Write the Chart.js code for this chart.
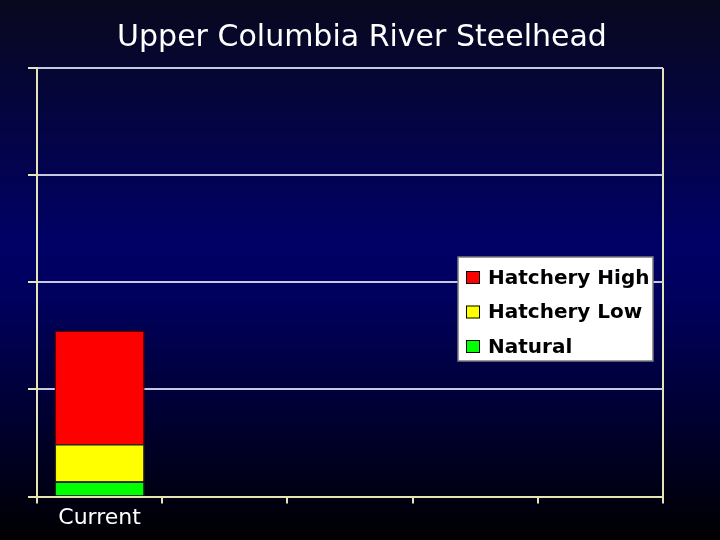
<!DOCTYPE html>
<html>
<head>
<meta charset="utf-8">
<script src="https://cdn.jsdelivr.net/npm/chart.js@4.4.1/dist/chart.umd.min.js"></script>
<style>
  html, body { margin: 0; padding: 0; background: #000; }
  #wrap { width: 720px; height: 540px; }
</style>
</head>
<body>
<div id="wrap"><canvas id="c" width="720" height="540"></canvas></div>
<script>
// ---- data ----
const titleText = "Upper Columbia River Steelhead";
const categories = ["Current", "", "", "", ""];
const natural = [1.4, null, null, null, null];
const hatcheryLow = [3.5, null, null, null, null];
const hatcheryHigh = [10.6, null, null, null, null];
const yMax = 40;
const yStep = 10;

const cream = "#e6e6b4";
const gridCol = "#c8c8e2";

const bgPlugin = {
  id: "bg",
  beforeDraw(chart) {
    const ctx = chart.ctx;
    const g = ctx.createLinearGradient(0, 0, 0, chart.height);
    g.addColorStop(0, "#08081e");
    g.addColorStop(0.45, "#000066");
    g.addColorStop(0.55, "#00005e");
    g.addColorStop(1, "#000002");
    ctx.save();
    ctx.fillStyle = g;
    ctx.fillRect(0, 0, chart.width, chart.height);
    ctx.restore();
  }
};

const titlePlugin = {
  id: "centerTitle",
  afterDraw(chart) {
    const ctx = chart.ctx;
    ctx.save();
    ctx.fillStyle = "#ffffff";
    ctx.font = "30px 'DejaVu Sans'";
    ctx.textAlign = "center";
    ctx.textBaseline = "alphabetic";
    ctx.fillText(titleText, 362, 46);
    ctx.restore();
  }
};

const legendPlugin = {
  id: "boxLegend",
  afterDraw(chart) {
    const ctx = chart.ctx;
    const bx = 458, by = 257, bw = 195, bh = 104;
    ctx.save();
    ctx.fillStyle = "#ffffff";
    ctx.fillRect(bx, by, bw, bh);
    ctx.strokeStyle = "#7a7a7a";
    ctx.lineWidth = 1.5;
    ctx.strokeRect(bx, by, bw, bh);
    const ds = chart.data.datasets.slice().reverse();
    ctx.font = "bold 20px 'DejaVu Sans'";
    ctx.textBaseline = "middle";
    ctx.textAlign = "left";
    ds.forEach((d, i) => {
      const cy = by + 20.5 + i * 34.5;
      ctx.fillStyle = d.backgroundColor;
      ctx.fillRect(466, cy - 6.5, 14, 13);
      ctx.strokeStyle = "#000";
      ctx.lineWidth = 1;
      ctx.strokeRect(466.5, cy - 6, 13, 12);
      ctx.fillStyle = "#000";
      ctx.fillText(d.label, 488, cy + 1);
    });
    ctx.restore();
  }
};

new Chart(document.getElementById("c"), {
  type: "bar",
  data: {
    labels: categories,
    datasets: [
      { label: "Natural", data: natural, backgroundColor: "#00ff00", borderColor: "#1a2a1a", borderWidth: 1.5 },
      { label: "Hatchery Low", data: hatcheryLow, backgroundColor: "#ffff00", borderColor: "#2a2a10", borderWidth: 1.5 },
      { label: "Hatchery High", data: hatcheryHigh, backgroundColor: "#ff0000", borderColor: "#5a0000", borderWidth: 1.5 }
    ]
  },
  options: {
    responsive: false,
    animation: false,
    devicePixelRatio: 1,
    layout: { padding: { left: 28, right: 57, top: 68, bottom: 8 } },
    plugins: {
      legend: { display: false },
      tooltip: { enabled: false },
      title: { display: false }
    },
    scales: {
      x: {
        stacked: true,
        barPercentage: 0.663,
        categoryPercentage: 1.0,
        border: { display: true, color: cream, width: 2 },
        grid: {
          display: true,
          offset: true,
          drawOnChartArea: true,
          color: (c) => (c.type === "tick" ? "rgba(0,0,0,0)" : cream),
          tickColor: cream,
          tickLength: 7,
          lineWidth: 2
        },
        ticks: {
          color: "#ffffff",
          font: { family: "'DejaVu Sans'", size: 22 },
          padding: 1,
          maxRotation: 0,
          autoSkip: false
        }
      },
      y: {
        stacked: true,
        min: 0,
        max: yMax,
        border: { display: true, color: cream, width: 2 },
        grid: {
          color: gridCol,
          tickColor: cream,
          tickLength: 9,
          lineWidth: 2
        },
        ticks: { display: false, stepSize: yStep }
      }
    }
  },
  plugins: [bgPlugin, titlePlugin, legendPlugin]
});
</script>
</body>
</html>
